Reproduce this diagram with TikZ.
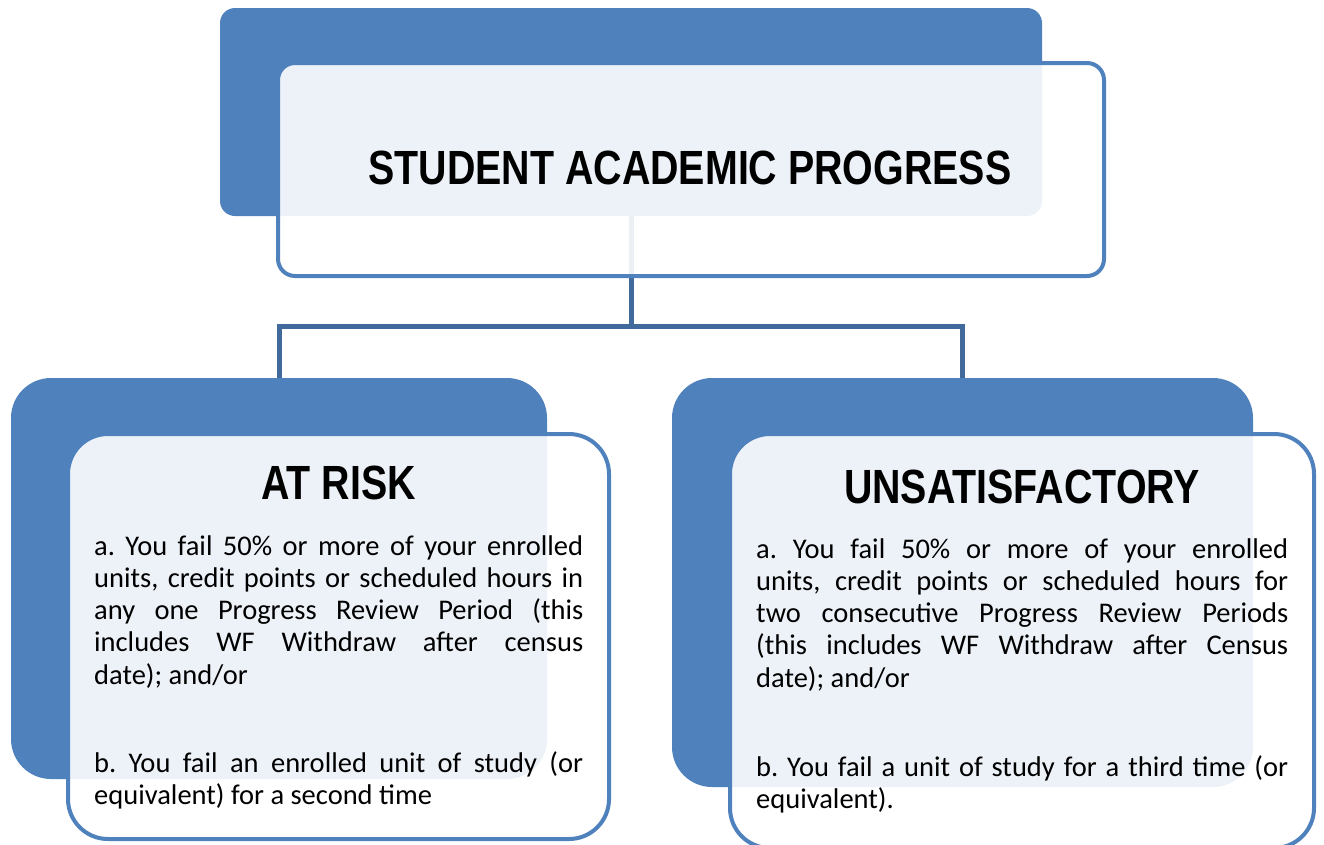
\documentclass[tikz,border=0pt]{standalone}
\usepackage{fontspec}
\newfontfamily\bodyfont{Carlito}
\newfontfamily\titlefont[FakeStretch=0.82]{Liberation Sans}
\definecolor{accent}{HTML}{4F81BD}
\definecolor{connc}{HTML}{41699B}
\newcommand\jline[2]{\makebox[#1][s]{\spaceskip=0pt\xspaceskip=0pt\frenchspacing #2}}
\newcommand\nline[1]{\mbox{\spaceskip=0pt\xspaceskip=0pt\frenchspacing #1}}
\tikzset{
  backbox/.style={shape=rectangle, fill=accent, draw=none, inner sep=0pt},
  frontbox/.style={shape=rectangle, draw=accent, line width=4pt, fill=white, fill opacity=0.9, draw opacity=1, inner sep=0pt},
  conn/.style={draw=connc, line width=5pt, line join=miter},
  titletext/.style={font=\titlefont\bfseries\fontsize{48}{56}\selectfont, inner sep=0pt, text=black},
  bodytext/.style={font=\bodyfont\fontsize{28.5}{32.3}\selectfont\frenchspacing, inner sep=0pt, align=left, text=black}
}
\begin{document}
\begin{tikzpicture}[x=1pt,y=-1pt]
\useasboundingbox (0,0) rectangle (1324,844);
% back boxes
\node[backbox, minimum width=822pt, minimum height=208pt, rounded corners=15pt] (topback) at (631,112) {};
\node[backbox, minimum width=536pt, minimum height=401pt, rounded corners=40pt] (leftback) at (279,578.5) {};
\node[backbox, minimum width=581pt, minimum height=409pt, rounded corners=40pt] (rightback) at (962.5,582.5) {};
% connectors
\coordinate (jn) at (631,326);
\draw[conn] (topback.south) -- (jn);
\draw[conn] (leftback.north) |- (jn) -| (rightback.north);
% front boxes
\node[frontbox, minimum width=826pt, minimum height=213pt, rounded corners=17pt] (topfront) at (691,169.5) {};
\node[frontbox, minimum width=541pt, minimum height=405pt, rounded corners=40pt] (leftfront) at (338.5,636.5) {};
\node[frontbox, minimum width=584pt, minimum height=414pt, rounded corners=40pt] (rightfront) at (1022,641) {};
% titles
\node[titletext, anchor=base] (title) at (690,184) {STUDENT ACADEMIC PROGRESS};
\node[titletext, anchor=base] (atrisk) at (338.5,499) {AT RISK};
\node[titletext, anchor=base] (unsat) at (1022,503) {UNSATISFACTORY};
% body text
\node[bodytext, text width=489pt, anchor=base west] (lefta) at (94,555) {%
\jline{489pt}{a. You fail 50\% or more of your enrolled}\\
\jline{489pt}{units, credit points or scheduled hours in}\\
\jline{489pt}{any one Progress Review Period (this}\\
\jline{489pt}{includes WF Withdraw after census}\\
\nline{date); and/or}};
\node[bodytext, text width=489pt, anchor=base west] (leftb) at (94,772) {%
\jline{489pt}{b. You fail an enrolled unit of study (or}\\
\nline{equivalent) for a second time}};
\node[bodytext, text width=532pt, anchor=base west] (righta) at (756,558) {%
\jline{532pt}{a. You fail 50\% or more of your enrolled}\\
\jline{532pt}{units, credit points or scheduled hours for}\\
\jline{532pt}{two consecutive Progress Review Periods}\\
\jline{532pt}{(this includes WF Withdraw after Census}\\
\nline{date); and/or}};
\node[bodytext, text width=532pt, anchor=base west] (rightb) at (756,776) {%
\jline{532pt}{b. You fail a unit of study for a third time (or}\\
\nline{equivalent).}};
\end{tikzpicture}
\end{document}
